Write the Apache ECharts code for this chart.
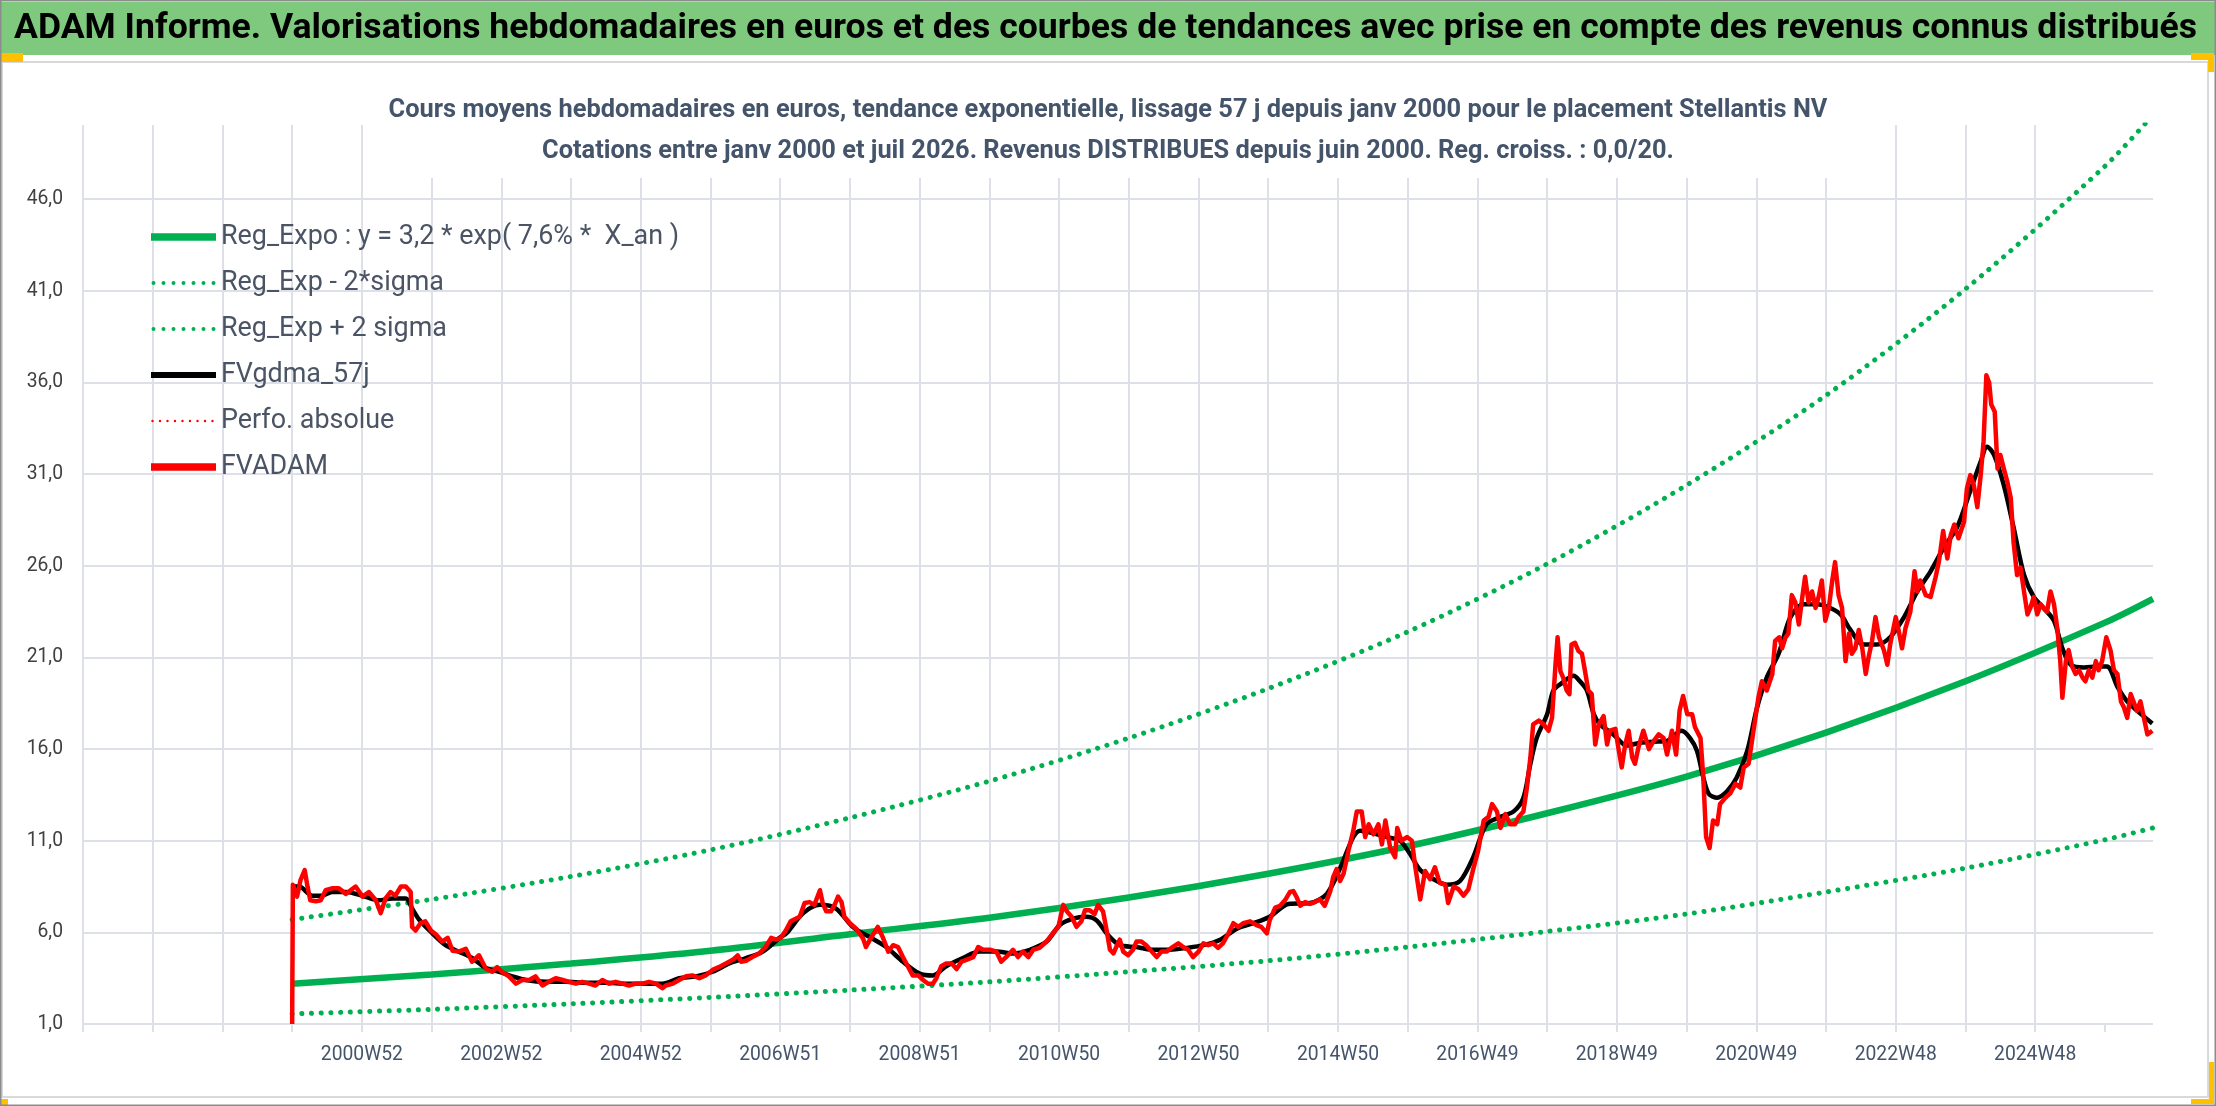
<!DOCTYPE html>
<html>
<head>
<meta charset="utf-8">
<script src="https://cdn.jsdelivr.net/npm/echarts@6/dist/echarts.min.js"></script>
<style>
  html, body { margin: 0; padding: 0; background: #fff; }
  #chart { width: 2216px; height: 1106px; }
</style>
</head>
<body>
<div id="chart"></div>
<script>
// ---- données (année décimale, valeur en euros) ----

const tickLabels = ['2000W52', '2002W52', '2004W52', '2006W51', '2008W51', '2010W50', '2012W50',
  '2014W50', '2016W49', '2018W49', '2020W49', '2022W48', '2024W48'];
const labelYears = [2001, 2003, 2005, 2007, 2009, 2011, 2013, 2015, 2017, 2019, 2021, 2023, 2025];
const tickYears = [1997, 1998, 1999, 2000, 2001, 2002, 2003, 2004, 2005, 2006, 2007, 2008, 2009, 2010,
  2011, 2012, 2013, 2014, 2015, 2016, 2017, 2018, 2019, 2020, 2021, 2022, 2023, 2024, 2025, 2026];

const regYears = [2000, 2002, 2004, 2006, 2008, 2010, 2012, 2014, 2016, 2018, 2020, 2022, 2024, 2026, 2026.69];
const regExpo = [3.2, 3.7, 4.3, 5.0, 5.9, 6.8, 7.9, 9.2, 10.7, 12.5, 14.5, 16.9, 19.7, 22.9, 24.2];
const regLow = [1.55, 1.8, 2.1, 2.45, 2.85, 3.3, 3.85, 4.45, 5.2, 6.05, 7.0, 8.2, 9.5, 11.05, 11.7];
const regHigh = [6.7, 7.8, 9.05, 10.5, 12.25, 14.25, 16.6, 19.3, 22.4, 26.1, 30.4, 35.3, 41.1, 47.8, 50.6];

const fvadam = [
  [2000.00,1.0],[2000.01,8.6],[2000.07,7.95],[2000.12,8.85],[2000.18,9.4],[2000.22,8.5],[2000.26,7.75],
  [2000.34,7.7],[2000.41,7.75],[2000.48,8.3],[2000.57,8.4],[2000.67,8.4],[2000.77,8.1],[2000.91,8.5],
  [2001.01,7.95],[2001.10,8.2],[2001.20,7.75],[2001.27,7.05],[2001.34,7.85],[2001.41,8.2],[2001.48,8.0],
  [2001.56,8.5],[2001.63,8.5],[2001.70,8.2],[2001.72,6.3],[2001.77,6.1],[2001.84,6.5],[2001.91,6.6],
  [2001.99,6.1],[2002.06,5.9],[2002.15,5.5],[2002.23,5.7],[2002.30,5.0],[2002.39,4.95],[2002.49,5.1],
  [2002.58,4.4],[2002.68,4.75],[2002.78,4.0],[2002.87,3.85],[2002.94,4.1],[2003.01,3.85],[2003.11,3.6],
  [2003.21,3.2],[2003.30,3.4],[2003.40,3.4],[2003.49,3.6],[2003.59,3.1],[2003.68,3.3],[2003.78,3.5],
  [2003.88,3.4],[2003.97,3.3],[2004.07,3.2],[2004.16,3.3],[2004.26,3.2],[2004.35,3.1],[2004.45,3.4],
  [2004.55,3.2],[2004.64,3.3],[2004.74,3.2],[2004.83,3.1],[2004.93,3.2],[2005.02,3.2],[2005.12,3.3],
  [2005.22,3.2],[2005.31,2.95],[2005.36,3.1],[2005.46,3.2],[2005.55,3.4],[2005.65,3.6],[2005.74,3.65],
  [2005.84,3.5],[2005.93,3.65],[2006.03,3.95],[2006.12,4.1],[2006.22,4.3],[2006.32,4.5],[2006.39,4.75],
  [2006.44,4.4],[2006.51,4.45],[2006.60,4.65],[2006.70,4.85],[2006.79,5.2],[2006.87,5.7],[2006.94,5.6],
  [2007.01,5.7],[2007.08,6.1],[2007.15,6.6],[2007.28,6.85],[2007.35,7.6],[2007.42,7.65],[2007.49,7.5],
  [2007.57,8.3],[2007.61,7.6],[2007.66,7.15],[2007.73,7.15],[2007.78,7.5],[2007.83,7.95],[2007.88,7.65],
  [2007.92,6.85],[2008.00,6.5],[2008.09,6.2],[2008.19,5.65],[2008.23,5.2],[2008.31,5.75],[2008.40,6.3],
  [2008.47,5.75],[2008.55,4.95],[2008.62,5.3],[2008.69,5.2],[2008.76,4.65],[2008.83,4.15],[2008.90,3.65],
  [2008.98,3.65],[2009.05,3.4],[2009.12,3.2],[2009.19,3.2],[2009.24,3.5],[2009.31,4.15],[2009.38,4.3],
  [2009.46,4.3],[2009.53,4.0],[2009.60,4.4],[2009.67,4.5],[2009.77,4.65],[2009.84,5.2],[2009.91,5.05],
  [2010.01,5.05],[2010.10,4.95],[2010.17,4.4],[2010.24,4.65],[2010.34,5.05],[2010.41,4.65],[2010.48,4.95],
  [2010.56,4.65],[2010.63,5.05],[2010.72,5.15],[2010.82,5.5],[2010.91,5.95],[2010.99,6.3],[2011.06,7.5],
  [2011.11,7.15],[2011.18,6.85],[2011.25,6.3],[2011.32,6.6],[2011.37,7.2],[2011.44,7.2],[2011.51,7.0],
  [2011.56,7.5],[2011.63,7.15],[2011.68,6.15],[2011.73,5.05],[2011.78,4.85],[2011.82,5.2],[2011.87,5.6],
  [2011.92,4.95],[2011.99,4.75],[2012.06,5.05],[2012.11,5.5],[2012.18,5.5],[2012.25,5.3],[2012.33,4.95],
  [2012.40,4.65],[2012.47,4.95],[2012.54,4.95],[2012.61,5.15],[2012.71,5.4],[2012.78,5.2],[2012.85,5.05],
  [2012.92,4.65],[2013.00,4.95],[2013.07,5.4],[2013.14,5.3],[2013.21,5.4],[2013.28,5.15],[2013.35,5.4],
  [2013.43,5.95],[2013.50,6.5],[2013.57,6.3],[2013.64,6.5],[2013.74,6.6],[2013.83,6.4],[2013.90,6.3],
  [2013.98,5.95],[2014.02,6.65],[2014.10,7.35],[2014.17,7.45],[2014.24,7.75],[2014.31,8.2],[2014.36,8.25],
  [2014.41,7.9],[2014.46,7.45],[2014.53,7.65],[2014.60,7.55],[2014.67,7.65],[2014.74,7.8],[2014.81,7.45],
  [2014.89,8.25],[2014.93,9.0],[2014.98,9.45],[2015.03,8.8],[2015.08,9.2],[2015.15,10.45],[2015.22,11.55],
  [2015.27,12.6],[2015.34,12.6],[2015.39,11.2],[2015.44,11.9],[2015.51,11.35],[2015.58,11.9],[2015.63,10.8],
  [2015.68,12.1],[2015.75,10.6],[2015.82,10.1],[2015.85,11.7],[2015.91,11.0],[2015.99,11.2],[2016.06,11.0],
  [2016.11,9.55],[2016.18,7.8],[2016.25,9.35],[2016.32,8.9],[2016.39,9.55],[2016.46,8.7],[2016.54,8.6],
  [2016.58,7.6],[2016.66,8.5],[2016.73,8.35],[2016.80,8.0],[2016.87,8.35],[2016.94,9.45],[2017.01,10.45],
  [2017.09,12.1],[2017.16,12.3],[2017.21,13.0],[2017.28,12.6],[2017.33,11.7],[2017.40,12.45],[2017.47,11.9],
  [2017.54,11.9],[2017.59,12.3],[2017.66,12.6],[2017.71,13.9],[2017.76,15.55],[2017.80,17.35],[2017.88,17.55],
  [2017.95,17.35],[2018.02,17.0],[2018.07,17.7],[2018.12,20.6],[2018.15,22.1],[2018.19,20.25],[2018.23,19.9],
  [2018.28,19.2],[2018.32,19.0],[2018.35,21.7],[2018.40,21.8],[2018.45,21.35],[2018.50,21.2],[2018.55,20.1],
  [2018.59,19.2],[2018.64,19.0],[2018.69,16.25],[2018.74,17.35],[2018.81,17.8],[2018.86,16.25],[2018.90,17.0],
  [2018.98,17.1],[2019.02,16.1],[2019.07,15.0],[2019.12,16.25],[2019.17,17.0],[2019.22,15.55],[2019.26,15.2],
  [2019.31,16.1],[2019.38,17.0],[2019.46,16.0],[2019.53,16.45],[2019.60,16.8],[2019.67,16.6],[2019.72,15.7],
  [2019.79,17.0],[2019.85,15.7],[2019.90,18.1],[2019.95,18.9],[2020.01,17.9],[2020.08,17.9],[2020.12,17.2],
  [2020.20,16.6],[2020.24,14.45],[2020.28,11.2],[2020.33,10.6],[2020.38,12.1],[2020.44,11.9],[2020.48,13.0],
  [2020.56,13.35],[2020.63,13.6],[2020.70,14.1],[2020.77,13.9],[2020.82,15.0],[2020.89,15.2],[2020.96,17.0],
  [2021.03,18.8],[2021.08,19.7],[2021.15,19.2],[2021.23,20.1],[2021.27,21.9],[2021.33,22.1],[2021.37,21.5],
  [2021.42,22.1],[2021.46,22.3],[2021.51,24.4],[2021.56,24.0],[2021.61,22.8],[2021.66,24.3],[2021.70,25.4],
  [2021.75,24.0],[2021.80,24.6],[2021.85,23.7],[2021.90,24.4],[2021.94,25.2],[2021.99,23.0],[2022.04,23.7],
  [2022.09,25.2],[2022.13,26.2],[2022.18,24.4],[2022.23,23.7],[2022.28,20.8],[2022.33,22.3],[2022.37,21.2],
  [2022.42,21.5],[2022.47,22.5],[2022.52,21.5],[2022.57,20.1],[2022.61,21.0],[2022.66,21.9],[2022.71,23.2],
  [2022.76,22.1],[2022.83,21.4],[2022.88,20.6],[2022.92,21.7],[2023.00,23.2],[2023.04,22.5],[2023.09,21.5],
  [2023.14,22.6],[2023.21,23.5],[2023.27,25.7],[2023.31,24.6],[2023.35,25.2],[2023.43,24.4],[2023.50,24.3],
  [2023.57,25.35],[2023.62,26.25],[2023.68,27.9],[2023.74,26.4],[2023.79,27.7],[2023.84,28.25],[2023.90,27.5],
  [2023.98,28.4],[2024.02,30.2],[2024.07,30.95],[2024.12,30.4],[2024.17,29.2],[2024.22,31.0],[2024.26,32.8],
  [2024.30,36.4],[2024.34,36.0],[2024.37,34.8],[2024.42,34.4],[2024.46,31.3],[2024.50,32.05],[2024.55,31.3],
  [2024.60,30.6],[2024.65,29.7],[2024.69,27.3],[2024.74,25.5],[2024.79,25.9],[2024.84,24.6],[2024.89,23.35],
  [2024.93,23.7],[2024.98,24.3],[2025.03,23.35],[2025.08,23.9],[2025.12,23.7],[2025.17,23.5],[2025.22,24.6],
  [2025.27,23.9],[2025.32,22.5],[2025.36,20.8],[2025.39,18.8],[2025.44,20.8],[2025.48,21.4],[2025.53,20.5],
  [2025.58,20.1],[2025.63,20.3],[2025.68,19.9],[2025.72,19.7],[2025.77,20.3],[2025.82,19.9],[2025.87,20.8],
  [2025.91,20.3],[2025.96,20.8],[2026.02,22.1],[2026.08,21.4],[2026.13,20.3],[2026.18,20.1],[2026.23,18.6],
  [2026.27,18.3],[2026.32,17.7],[2026.37,19.0],[2026.42,18.5],[2026.46,18.1],[2026.51,18.6],[2026.56,17.7],
  [2026.61,16.8],[2026.68,17.0]
];

const fvgdma = [
  [2000.00,8.5],[2000.10,8.5],[2000.29,8.0],[2000.43,8.0],[2000.57,8.2],[2000.77,8.2],[2001.01,8.0],
  [2001.24,7.75],[2001.44,7.85],[2001.63,7.85],[2001.72,7.3],[2001.82,6.7],[2002.01,5.95],[2002.20,5.3],
  [2002.39,4.95],[2002.58,4.6],[2002.78,4.05],[2002.97,3.85],[2003.16,3.6],[2003.35,3.4],[2003.64,3.3],
  [2003.92,3.3],[2004.21,3.25],[2004.50,3.25],[2004.79,3.2],[2005.07,3.2],[2005.31,3.2],[2005.55,3.5],
  [2005.79,3.6],[2006.03,3.85],[2006.27,4.3],[2006.51,4.6],[2006.75,4.95],[2006.99,5.7],[2007.09,5.95],
  [2007.33,7.05],[2007.57,7.5],[2007.80,7.3],[2008.04,6.3],[2008.28,5.75],[2008.52,5.2],[2008.76,4.4],
  [2009.00,3.75],[2009.19,3.65],[2009.38,4.15],[2009.62,4.6],[2009.86,4.95],[2010.10,4.95],[2010.34,4.85],
  [2010.58,5.05],[2010.82,5.5],[2011.01,6.4],[2011.20,6.75],[2011.39,6.85],[2011.54,6.65],[2011.68,5.95],
  [2011.87,5.3],[2012.11,5.2],[2012.35,5.05],[2012.59,5.05],[2012.83,5.15],[2013.07,5.3],[2013.31,5.6],
  [2013.55,6.2],[2013.79,6.5],[2014.02,6.85],[2014.29,7.55],[2014.60,7.6],[2014.84,8.1],[2015.03,9.5],
  [2015.22,11.2],[2015.32,11.55],[2015.51,11.4],[2015.70,11.2],[2015.89,11.0],[2016.03,10.3],[2016.18,9.4],
  [2016.37,8.9],[2016.56,8.6],[2016.75,8.8],[2016.94,10.1],[2017.13,11.9],[2017.33,12.3],[2017.52,12.6],
  [2017.66,13.35],[2017.76,15.2],[2017.85,16.6],[2018.00,17.9],[2018.09,19.2],[2018.21,19.6],[2018.38,20.0],
  [2018.47,19.7],[2018.57,19.2],[2018.67,17.9],[2018.76,17.35],[2018.95,16.8],[2019.14,16.2],[2019.34,16.35],
  [2019.53,16.4],[2019.72,16.45],[2019.93,17.0],[2020.05,16.6],[2020.15,15.9],[2020.24,14.45],[2020.32,13.55],
  [2020.44,13.35],[2020.58,13.7],[2020.72,14.45],[2020.87,15.9],[2021.01,18.25],[2021.15,19.9],[2021.32,21.2],
  [2021.49,23.2],[2021.68,23.9],[2021.87,23.9],[2022.06,23.7],[2022.21,23.35],[2022.35,22.5],[2022.54,21.7],
  [2022.73,21.7],[2022.92,22.1],[2023.12,23.2],[2023.31,24.6],[2023.50,25.7],[2023.69,27.0],[2023.88,28.1],
  [2024.07,30.1],[2024.22,31.7],[2024.31,32.5],[2024.41,32.05],[2024.55,30.4],[2024.69,28.1],[2024.84,25.5],
  [2024.98,24.3],[2025.12,23.7],[2025.27,23.0],[2025.39,21.5],[2025.51,20.6],[2025.70,20.45],[2025.89,20.5],
  [2026.03,20.5],[2026.18,19.4],[2026.32,18.6],[2026.46,18.1],[2026.68,17.4]
];

// ---- textes ----

const bannerText = 'ADAM Informe. Valorisations hebdomadaires en euros et des courbes de tendances avec prise en compte des revenus connus distribués';
const titleLine1 = 'Cours moyens hebdomadaires en euros, tendance exponentielle, lissage 57 j depuis janv 2000 pour le placement Stellantis NV';
const titleLine2 = 'Cotations entre janv 2000 et juil 2026. Revenus DISTRIBUES depuis juin 2000. Reg. croiss. : 0,0/20.';
const legendNames = ['Reg_Expo : y = 3,2 * exp( 7,6% *  X_an )', 'Reg_Exp - 2*sigma', 'Reg_Exp + 2 sigma',
  'FVgdma_57j', 'Perfo. absolue', 'FVADAM'];

// ---- police : l'original est en Calibri (étroite) ; on prend la police installée dont
// la hauteur d'x, à largeur égale, est la plus proche ----

const measureCtx = document.createElement('canvas').getContext('2d');

function isInstalled(family) {
  const s = 'abcdefghijklmnopqrstuvwxyz ABCDEFGHIJ 0123456789';
  return ['monospace', 'serif'].every(fb => {
    measureCtx.font = '100px ' + fb;
    const a = measureCtx.measureText(s).width;
    measureCtx.font = "100px '" + family + "', " + fb;
    return Math.abs(measureCtx.measureText(s).width - a) > 0.5;
  });
}

function xHeightAtWidth(family, text, width) {
  measureCtx.font = "100px '" + family + "'";
  const w = measureCtx.measureText(text).width;
  const xh = measureCtx.measureText('x').actualBoundingBoxAscent;
  return xh * width / w;
}

const candidates = ['Liberation Sans Narrow', 'Noto Sans SemiCondensed', 'Noto Sans Condensed',
  'Noto Sans ExtraCondensed', 'DejaVu Sans Condensed', 'Roboto Condensed', 'Open Sans Condensed',
  'Liberation Sans', 'Lato', 'Roboto', 'Noto Sans', 'Open Sans'];
let bestFamily = 'Liberation Sans';
let bestGap = Infinity;
candidates.filter(isInstalled).forEach(f => {
  const gap = Math.abs(xHeightAtWidth(f, legendNames[0], 459) - 14.3);
  if (gap < bestGap) { bestGap = gap; bestFamily = f; }
});
const FONT = "'" + bestFamily + "', 'Liberation Sans', sans-serif";

function fitSize(text, weight, width) {
  measureCtx.font = weight + ' 100px ' + FONT;
  return Math.round(1000 * width / measureCtx.measureText(text).width) / 10;
}

const bannerSize = fitSize(bannerText, 'bold', 2187);
const titleSize = fitSize(titleLine1, 'bold', 1439);
const legendSize = fitSize(legendNames[0], 'normal', 459);
const axisSize = fitSize('2022W48', 'normal', 82);

// ---- styles ----

const GREEN = '#00B050';
const RED = '#FF0000';
const GRID = '#DDE0E7';
const SLATE = '#44546A';

// icônes de légende : trait plein ou pointillé dans une boîte 65 x 30
function barIcon(thick) {
  return 'path://M0 0M65 30M0 ' + (15 - thick / 2) + 'h65v' + thick + 'h-65z';
}
function dotIcon(count, step, r, start) {
  let p = 'path://M0 0M65 30';
  for (let k = 0; k < count; k++) {
    const cx = start + k * step;
    p += 'M' + (cx - r) + ' 15a' + r + ' ' + r + ' 0 1 0 ' + (2 * r) + ' 0a' + r + ' ' + r + ' 0 1 0 ' + (-2 * r) + ' 0z';
  }
  return p;
}

const zip = (xs, ys) => xs.map((x, i) => [x, ys[i]]);
const dotted = { type: [0.1, 9.6], cap: 'round' };

const chart = echarts.init(document.getElementById('chart'), null, { renderer: 'canvas' });

chart.setOption({
  animation: false,
  backgroundColor: '#fff',
  textStyle: { fontFamily: FONT },
  graphic: [
    { type: 'rect', z: -10, shape: { x: 2, y: 62, width: 2206, height: 1035 },
      style: { fill: '#fff', stroke: '#D9D9D9', lineWidth: 2 } },
    { type: 'rect', z: 100, shape: { x: 1, y: 2, width: 2214, height: 53 }, style: { fill: '#7FC97F' } },
    { type: 'text', z: 101, x: 14, y: 29,
      style: { text: bannerText, fill: '#000', font: 'bold ' + bannerSize + 'px ' + FONT, verticalAlign: 'middle' } },
    { type: 'rect', z: 100, shape: { x: 0, y: 53, width: 23, height: 9 }, style: { fill: '#FFC000' } },
    { type: 'rect', z: 100, shape: { x: 2191, y: 53, width: 23, height: 7 }, style: { fill: '#FFC000' } },
    { type: 'rect', z: 100, shape: { x: 2208, y: 53, width: 6, height: 19 }, style: { fill: '#FFC000' } },
    { type: 'rect', z: 100, shape: { x: 2209, y: 1062, width: 5, height: 42 }, style: { fill: '#FFC000' } },
    { type: 'rect', z: 100, shape: { x: 2191, y: 1099, width: 23, height: 5 }, style: { fill: '#FFC000' } },
    { type: 'rect', z: 100, shape: { x: 0, y: 1099, width: 8, height: 7 }, style: { fill: '#FFC000' } },
    { type: 'rect', z: 100, shape: { x: 0.5, y: 0.5, width: 2215, height: 1105 },
      style: { fill: 'none', stroke: '#8C8C8C', lineWidth: 2 } }
  ],
  title: {
    text: titleLine1 + '\n' + titleLine2,
    left: 'center',
    top: 84,
    padding: [6, 22, 6, 22],
    backgroundColor: '#fff',
    textStyle: { color: SLATE, fontWeight: 'bold', fontSize: titleSize, lineHeight: 41, fontFamily: FONT }
  },
  legend: {
    orient: 'vertical',
    left: 151,
    top: 222,
    padding: 0,
    itemWidth: 65,
    itemHeight: 30,
    itemGap: 16,
    textStyle: { color: '#4A5464', fontSize: legendSize, lineHeight: 30, fontFamily: FONT },
    data: [
      { name: legendNames[0], icon: barIcon(7.5) },
      { name: legendNames[1], icon: dotIcon(7, 10, 2, 2.5) },
      { name: legendNames[2], icon: dotIcon(7, 10, 2, 2.5) },
      { name: legendNames[3], icon: barIcon(6) },
      { name: legendNames[4], icon: dotIcon(9, 7.5, 1.2, 1.5) },
      { name: legendNames[5], icon: barIcon(7.5) }
    ]
  },
  grid: { left: 83, right: 63, top: 125, bottom: 82, containLabel: false },
  xAxis: {
    type: 'value',
    min: 1997,
    max: 2026.69,
    interval: 1,
    axisLine: { show: false },
    axisTick: { show: true, length: 8, customValues: tickYears, lineStyle: { color: GRID, width: 2 } },
    axisLabel: {
      customValues: labelYears,
      margin: 22,
      color: SLATE,
      fontSize: axisSize,
      fontFamily: FONT,
      formatter: v => {
        const i = labelYears.indexOf(Math.round(v));
        return i >= 0 ? tickLabels[i] : '';
      }
    },
    splitLine: { show: true, showMaxLine: false, lineStyle: { color: GRID, width: 2 } }
  },
  yAxis: {
    type: 'value',
    min: 1,
    max: 50.05,
    interval: 5,
    axisLine: { show: false },
    axisTick: { show: false },
    axisLabel: {
      margin: 20,
      color: '#404040',
      fontSize: axisSize,
      fontFamily: FONT,
      showMaxLabel: false,
      formatter: v => ((v - 1) % 5 === 0 ? v.toFixed(1).replace('.', ',') : '')
    },
    splitLine: { show: true, showMaxLine: false, lineStyle: { color: GRID, width: 2 } }
  },
  series: [
    { name: legendNames[0], type: 'line', data: zip(regYears, regExpo), smooth: 0.3, symbol: 'none',
      lineStyle: { color: GREEN, width: 6.5 }, itemStyle: { color: GREEN }, z: 2 },
    { name: legendNames[1], type: 'line', data: zip(regYears, regLow), smooth: 0.3, symbol: 'none',
      lineStyle: Object.assign({ color: GREEN, width: 5 }, dotted), itemStyle: { color: GREEN }, z: 2 },
    { name: legendNames[2], type: 'line', data: zip(regYears, regHigh), smooth: 0.3, symbol: 'none',
      lineStyle: Object.assign({ color: GREEN, width: 5 }, dotted), itemStyle: { color: GREEN }, z: 2 },
    { name: legendNames[3], type: 'line', data: fvgdma, smooth: 0.3, symbol: 'none',
      lineStyle: { color: '#000', width: 4.5, join: 'round' }, itemStyle: { color: '#000' }, z: 3 },
    { name: legendNames[4], type: 'line', data: [], symbol: 'none',
      lineStyle: { color: RED, width: 3, type: [0.1, 7], cap: 'round' }, itemStyle: { color: RED }, z: 3 },
    { name: legendNames[5], type: 'line', data: fvadam, symbol: 'none',
      lineStyle: { color: RED, width: 4.5, join: 'round' }, itemStyle: { color: RED }, z: 4 }
  ]
});
</script>
</body>
</html>
